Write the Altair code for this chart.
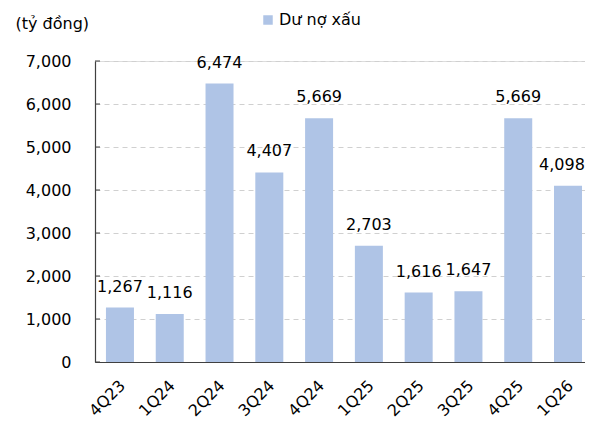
import altair as alt
import pandas as pd

quarters = ["4Q23", "1Q24", "2Q24", "3Q24", "4Q24", "1Q25", "2Q25", "3Q25", "4Q25", "1Q26"]
npl = [1267, 1116, 6474, 4407, 5669, 2703, 1616, 1647, 5669, 4098]
series_name = "Dư nợ xấu"
y_ticks = [0, 1000, 2000, 3000, 4000, 5000, 6000, 7000]

df = pd.DataFrame({"q": quarters, "v": npl, "s": [series_name] * len(quarters)})
ticks_df = pd.DataFrame({"t": y_ticks})

FONT = "DejaVu Sans"
BAR = "#AFC4E6"

x_scale = alt.Scale(paddingInner=0.4375, paddingOuter=0.14, align=0.786)
y_scale = alt.Scale(domain=[0, 7000], nice=False)

x_enc = alt.X("q:N", sort=quarters, scale=x_scale,
              axis=alt.Axis(title=None, labelAngle=-45, labelFont=FONT, labelFontSize=16,
                            labelColor="#000000", ticks=False, labelPadding=15, labelOffset=-3,
                            domainColor="#404040", domainWidth=1.2))

bars = alt.Chart(df).mark_bar(color=BAR).encode(
    x=x_enc,
    y=alt.Y("v:Q", scale=y_scale,
            axis=alt.Axis(values=y_ticks, format=",d", labelFont=FONT, labelFontSize=16,
                          labelColor="#000000", ticks=False, labelPadding=24,
                          domainColor="#404040", domainWidth=1.2,
                          grid=True, gridColor="#D0D0D0", gridDash=[5, 4], gridWidth=1,
                          title="(tỷ đồng)", titleAngle=0, titleFont=FONT, titleFontSize=16,
                          titleFontWeight="normal", titleColor="#000000",
                          titleAlign="left", titleBaseline="alphabetic",
                          titleX=-80, titleY=-33)),
    color=alt.Color("s:N", scale=alt.Scale(range=[BAR]),
                    legend=alt.Legend(title=None, orient="none", legendX=165, legendY=-49,
                                      symbolType="square", symbolSize=90, symbolStrokeWidth=0,
                                      labelFont=FONT, labelFontSize=16, labelColor="#000000",
                                      labelOffset=3)),
)

last_q = quarters[-1]

labels = alt.Chart(df).transform_filter(alt.datum.q != last_q).mark_text(
    font=FONT, fontSize=16, color="#000000", baseline="alphabetic", dy=-16).encode(
    x=alt.X("q:N", sort=quarters, scale=x_scale),
    y=alt.Y("v:Q", scale=y_scale),
    text=alt.Text("v:Q", format=",d"),
)

# last label nudged left so it stays inside the page
labels_last = alt.Chart(df).transform_filter(alt.datum.q == last_q).mark_text(
    font=FONT, fontSize=16, color="#000000", baseline="alphabetic", dy=-16, dx=-6).encode(
    x=alt.X("q:N", sort=quarters, scale=x_scale),
    y=alt.Y("v:Q", scale=y_scale),
    text=alt.Text("v:Q", format=",d"),
)

tickmarks = alt.Chart(ticks_df).mark_rule(color="#404040", strokeWidth=1).encode(
    y=alt.Y("t:Q", scale=y_scale),
    x=alt.value(0),
    x2=alt.value(5),
)

chart = alt.layer(bars, labels, labels_last, tickmarks).properties(
    width=490, height=301,
    autosize=alt.AutoSizeParams(type="none"),
    padding={"left": 87, "top": 53, "right": 0, "bottom": 59},
).configure_view(stroke=None).configure(background="#ffffff")

chart.save("out.html", embed_options={"renderer": "svg", "actions": False})
